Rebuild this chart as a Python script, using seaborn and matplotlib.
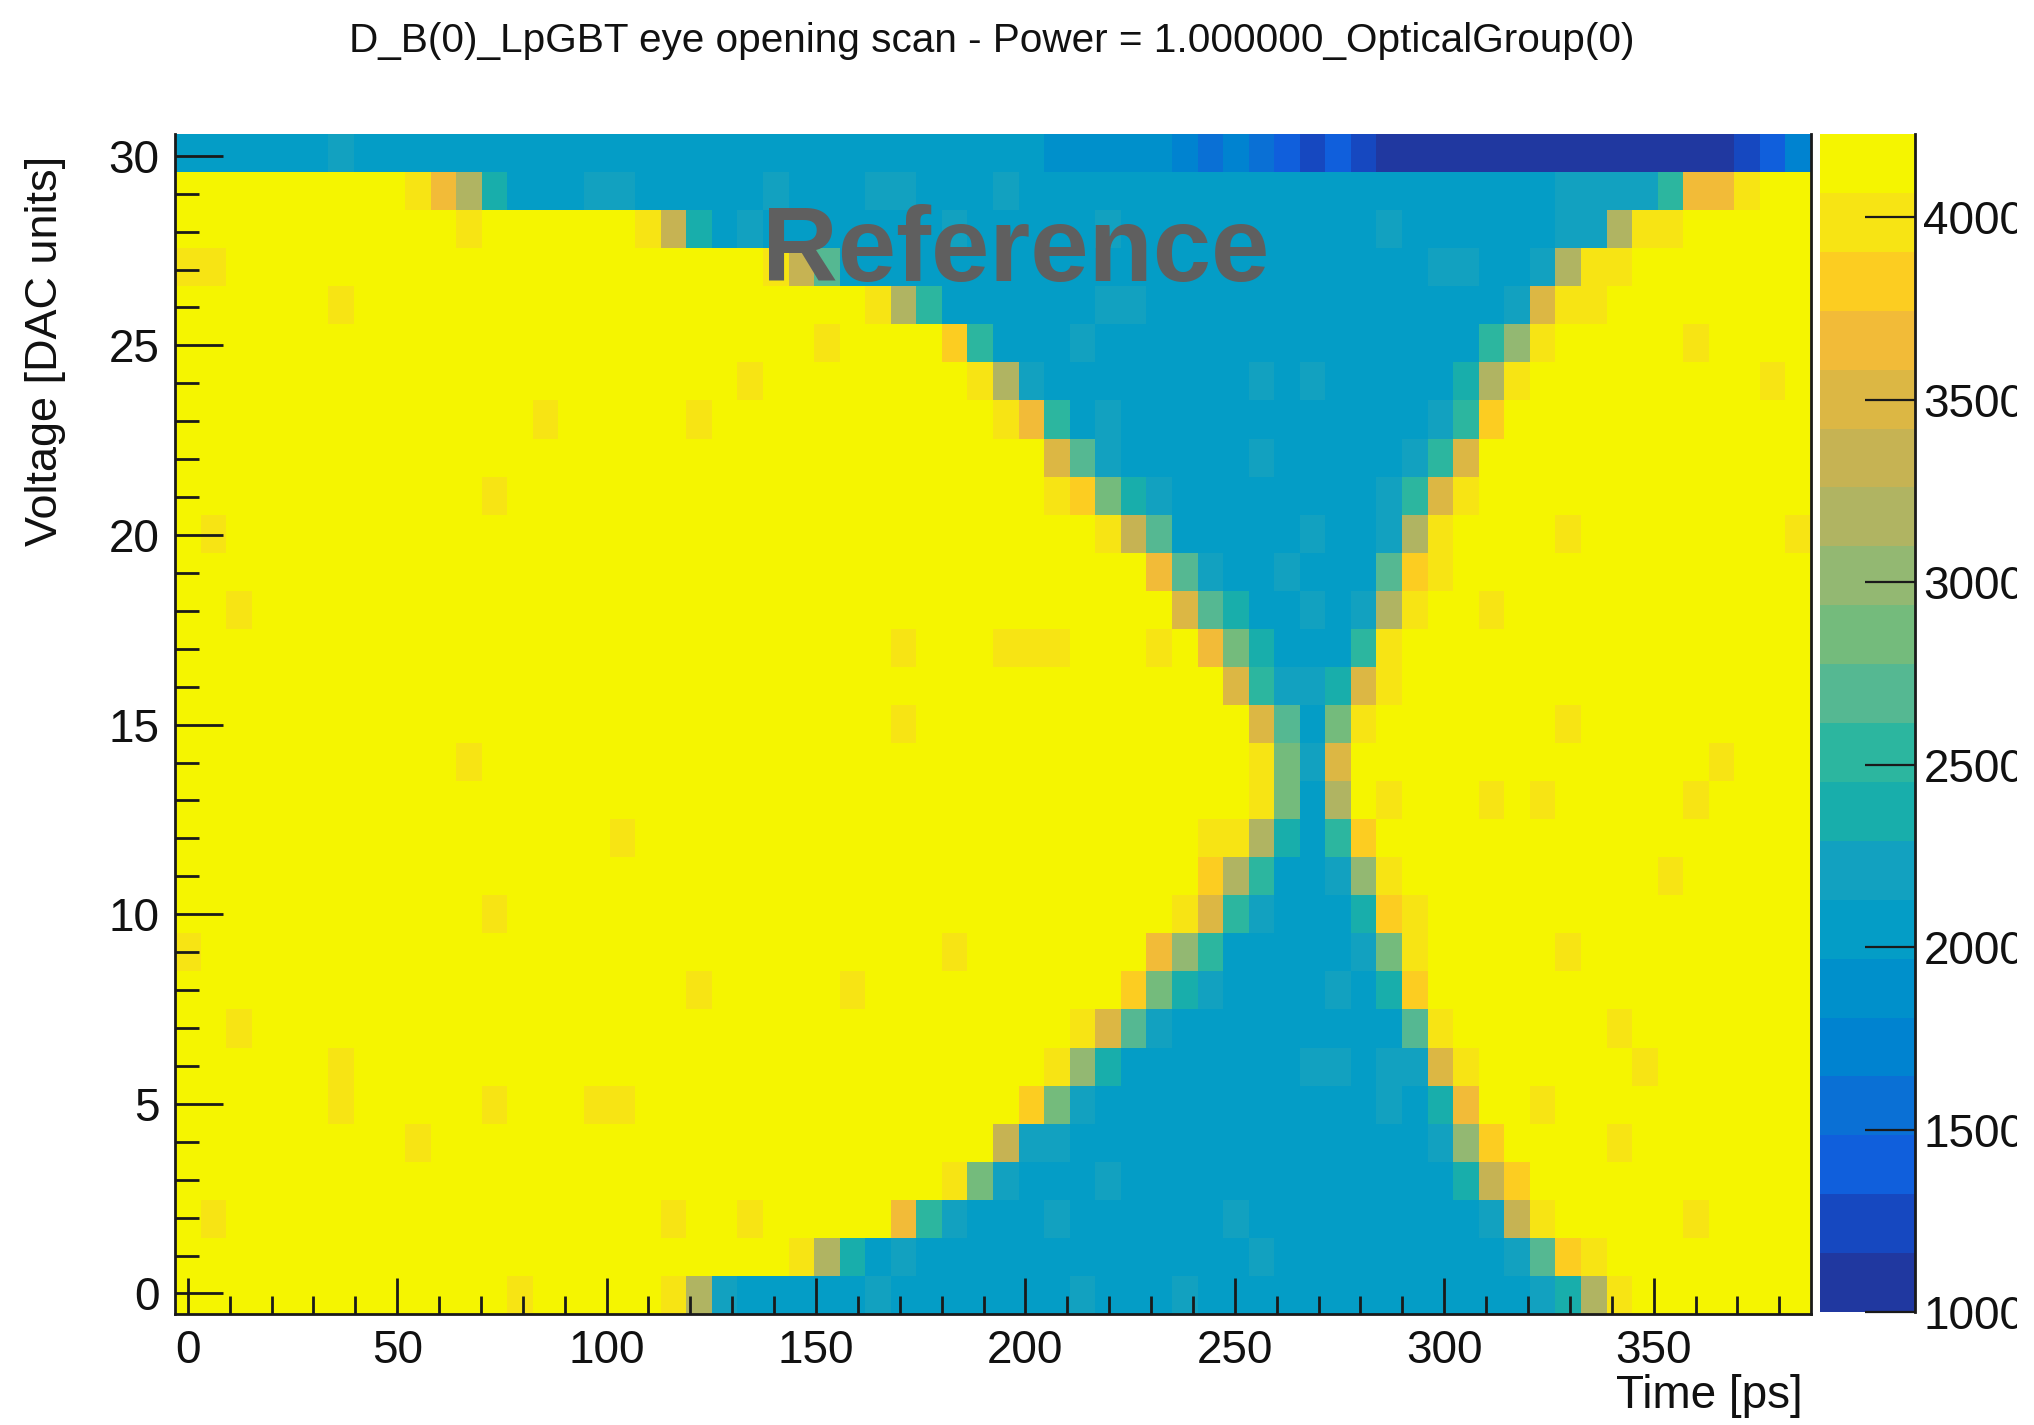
"""LpGBT eye opening scan, redrawn as a seaborn heatmap"""

import numpy as np
import pandas as pd
import matplotlib
matplotlib.use("Agg")
import matplotlib.pyplot as plt
from matplotlib.colors import ListedColormap, BoundaryNorm
from matplotlib.transforms import Bbox
import seaborn as sns

W, H = 2034, 1425

# one character per cell, see level_codes below (spaces are only there for reading)
row_30 = "......c... .......... .......... ....ddddde fefghghiii iiiiiiiiii ihge"
row_29 = "YYYYYYYYY1 36b...cc.. ...c...cc. ..c....... .......... ....cccca3 31YY"
row_28 = "YYYYYYYYYY Y1YYYYYY15 b.c....... c.....c... .......c.. ....cc611Y YYYY"
row_27 = "11YYYYYYYY YYYYYYYYYY YYY159.... .......... .........c c..c611YYY YYYY"
row_26 = "YYYYYY1YYY YYYYYYYYYY YYYYYYY16a ......cc.. .......... ..c411YYYY YYYY"
row_25 = "YYYYYYYYYY YYYYYYYYYY YYYYY1YYYY 2a...c.... .......... .a71YYYYY1 YYYY"
row_24 = "YYYYYYYYYY YYYYYYYYYY YY1YYYYYYY Y16c...... ..c.c..... b61YYYYYYY YY1Y"
row_23 = "YYYYYYYYYY YYYY1YYYYY 1YYYYYYYYY YY13a.c... .........c a2YYYYYYYY YYYY"
row_22 = "YYYYYYYYYY YYYYYYYYYY YYYYYYYYYY YYYY49c... ..c.....ca 4YYYYYYYYY YYYY"
row_21 = "YYYYYYYYYY YY1YYYYYYY YYYYYYYYYY YYYY128bc. .......ca4 1YYYYYYYYY YYYY"
row_20 = "Y1YYYYYYYY YYYYYYYYYY YYYYYYYYYY YYYYYY159. ....c..c61 YYYY1YYYYY YYY1"
row_19 = "YYYYYYYYYY YYYYYYYYYY YYYYYYYYYY YYYYYYYY39 c..c...921 YYYYYYYYYY YYYY"
row_18 = "YY1YYYYYYY YYYYYYYYYY YYYYYYYYYY YYYYYYYYY4 9b..c.c61Y Y1YYYYYYYY YYYY"
row_17 = "YYYYYYYYYY YYYYYYYYYY YYYYYYYY1Y YY111YYY1Y 38b...a1YY YYYYYYYYYY YYYY"
row_16 = "YYYYYYYYYY YYYYYYYYYY YYYYYYYYYY YYYYYYYYYY Y4accb41YY YYYYYYYYYY YYYY"
row_15 = "YYYYYYYYYY YYYYYYYYYY YYYYYYYY1Y YYYYYYYYYY YY49.81YYY YYYY1YYYYY YYYY"
row_14 = "YYYYYYYYYY Y1YYYYYYYY YYYYYYYYYY YYYYYYYYYY YY18c4YYYY YYYYYYYYYY 1YYY"
row_13 = "YYYYYYYYYY YYYYYYYYYY YYYYYYYYYY YYYYYYYYYY YY18.6Y1YY Y1Y1YYYYY1 YYYY"
row_12 = "YYYYYYYYYY YYYYYYY1YY YYYYYYYYYY YYYYYYYYYY 116b.a2YYY YYYYYYYYYY YYYY"
row_11 = "YYYYYYYYYY YYYYYYYYYY YYYYYYYYYY YYYYYYYYYY 26a..c71YY YYYYYYYY1Y YYYY"
row_10 = "YYYYYYYYYY YY1YYYYYYY YYYYYYYYYY YYYYYYYYY1 4ac...b21Y YYYYYYYYYY YYYY"
row_09 = "1YYYYYYYYY YYYYYYYYYY YYYYYYYYYY 1YYYYYYY37 a.....c81Y YYYY1YYYYY YYYY"
row_08 = "YYYYYYYYYY YYYYYYYYYY 1YYYYY1YYY YYYYYYY28b c....c.b2Y YYYYYYYYYY YYYY"
row_07 = "YY1YYYYYYY YYYYYYYYYY YYYYYYYYYY YYYYY149c. ........91 YYYYYY1YYY YYYY"
row_06 = "YYYYYY1YYY YYYYYYYYYY YYYYYYYYYY YYYY17b... ....cc.cc4 1YYYYYY1YY YYYY"
row_05 = "YYYYYY1YYY YY1YYY11YY YYYYYYYYYY YYY28c.... .......c.b 3YY1YYYYYY YYYY"
row_04 = "YYYYYYYYY1 YYYYYYYYYY YYYYYYYYYY YY5cc..... .........c 72YYYY1YYY YYYY"
row_03 = "YYYYYYYYYY YYYYYYYYYY YYYYYYYYYY 18c...c... .......... b52YYYYYYY YYYY"
row_02 = "Y1YYYYYYYY YYYYYYYYY1 YY1YYYYY3a c...c..... .c........ .c51YYYYY1 YYYY"
row_01 = "YYYYYYYYYY YYYYYYYYYY YYYY16b.c. .......... ..c....... ..c921YYYY YYYY"
row_00 = "YYYYYYYYYY YYY1YYYYY1 6c.....c.. .....c...c .......... ...cb61YYY YYYY"

rows = [row_30, row_29, row_28, row_27, row_26, row_25, row_24, row_23, row_22, row_21,
        row_20, row_19, row_18, row_17, row_16, row_15, row_14, row_13, row_12, row_11,
        row_10, row_09, row_08, row_07, row_06, row_05, row_04, row_03, row_02, row_01, row_00]

# 20 contour levels of the z axis, low to high
level_codes = "ihgfed.cba987654321Y"
level_values = [1081, 1242, 1404, 1565, 1726, 1888, 2049, 2211, 2372, 2533,
                2695, 2856, 3017, 3179, 3340, 3502, 3663, 3824, 3986, 4147]
level_colors = ["#2038a0", "#1648c0", "#105fdc", "#0a70d5", "#0083d0",
                "#0090cb", "#049dc6", "#12a1c0", "#18aeab", "#2cb69f",
                "#55b892", "#74bb7c", "#93b872", "#b0b462", "#c6b353",
                "#dcb744", "#f2bb38", "#fccd21", "#f7e414", "#f5f500"]
z_min, z_max = 1000, 4228

voltages = list(range(30, -1, -1))
bin_ps = 390.625 / 64  # 64 time bins per 2.56 GHz period
x_major = [0, 50, 100, 150, 200, 250, 300, 350]
y_major = [0, 5, 10, 15, 20, 25, 30]
z_ticks = [1000, 1500, 2000, 2500, 3000, 3500, 4000]

title = "D_B(0)_LpGBT eye opening scan - Power = 1.000000_OpticalGroup(0)"

lookup = dict(zip(level_codes, level_values))
table = []
for r in rows:
    cells = r.replace(" ", "")
    assert len(cells) == 64
    table.append([lookup[ch] for ch in cells])
df = pd.DataFrame(table, index=voltages)

sns.set_theme(style="white")
plt.rcParams['font.family'] = ['Liberation Sans', 'DejaVu Sans']
FS = 33

fig = plt.figure(figsize=(W / 100, H / 100), dpi=100)
ax = fig.add_axes([175 / W, 1 - 1314 / H, 1636 / W, 1180 / H])
cax = fig.add_axes([1820 / W, 1 - 1312 / H, 95 / W, 1178 / H])

cmap = ListedColormap(level_colors)
norm = BoundaryNorm(np.linspace(z_min, z_max, len(level_colors) + 1), cmap.N)
sns.heatmap(df, ax=ax, cbar_ax=cax, cmap=cmap, norm=norm, linewidths=0,
            xticklabels=False, yticklabels=False)

# time / voltage axes, cell coordinates from the heatmap
def x_pos(t):
    return (t + bin_ps / 2) / bin_ps

# the ticks in the original sit a touch off the cell centres near the top
def y_pos(v):
    return 30.46 - 0.9963 * v

ax.set_axisbelow(False)
cax.set_axisbelow(False)

ax.set_xticks([x_pos(t) for t in x_major])
ax.set_xticklabels([str(t) for t in x_major], rotation=0, fontsize=FS, color='#111111')
ax.set_xticks([x_pos(t) for t in range(0, 390, 10) if t not in x_major], minor=True)
ax.set_yticks([y_pos(v) for v in y_major])
ax.set_yticklabels([str(v) for v in y_major], rotation=0, fontsize=FS, color='#111111', va='center_baseline')
ax.set_yticks([y_pos(v) for v in range(0, 31) if v not in y_major], minor=True)

ax.tick_params(axis='x', which='major', direction='in', length=26, width=2, color='k', pad=11, bottom=True)
ax.tick_params(axis='x', which='minor', direction='in', length=13, width=2, color='k', bottom=True)
ax.tick_params(axis='y', which='major', direction='in', length=34.5, width=2, color='k', pad=11, left=True)
ax.tick_params(axis='y', which='minor', direction='in', length=17, width=2, color='k', left=True)
ax.set_xlabel("")
ax.set_ylabel("")

for side in ['left', 'bottom', 'right']:
    ax.spines[side].set_visible(True)
    ax.spines[side].set_color('k')
    ax.spines[side].set_linewidth(2)
ax.spines['top'].set_visible(False)

# z axis
cbar = ax.collections[0].colorbar
cbar.set_ticks(z_ticks)
cbar.set_ticklabels([str(z) for z in z_ticks])
cbar.ax.minorticks_off()
cbar.outline.set_visible(False)
cax.tick_params(axis='y', which='major', direction='in', length=36, width=1.6, color='k',
                pad=6, labelsize=FS, labelcolor='#111111', right=True)
cax.spines['right'].set_visible(True)
cax.spines['right'].set_color('k')
cax.spines['right'].set_linewidth(2)

# the original canvas cuts the z labels off short of the right edge
for lab in cax.get_yticklabels():
    lab.set_clip_box(Bbox([[0, 0], [2017, H]]))
    lab.set_clip_on(True)

fig.text(992 / W, 1 - 52 / H, title, ha='center', va='baseline', fontsize=29.2, color='#111111')
fig.text(46 / W, 1 - 156 / H, "Voltage [DAC units]", rotation=90, ha='center', va='top',
         fontsize=32.4, color='#111111')
fig.text(1803 / W, 1 - 1408 / H, "Time [ps]", ha='right', va='baseline', fontsize=FS, color='#111111')

# grey stamp over the plot in the picture
fig.text(1016 / W, 1 - 281 / H, "Reference", ha='center', va='baseline', fontsize=75.5,
         fontweight='bold', color='#5f5f5f')

fig.savefig("out.png", dpi=100)
